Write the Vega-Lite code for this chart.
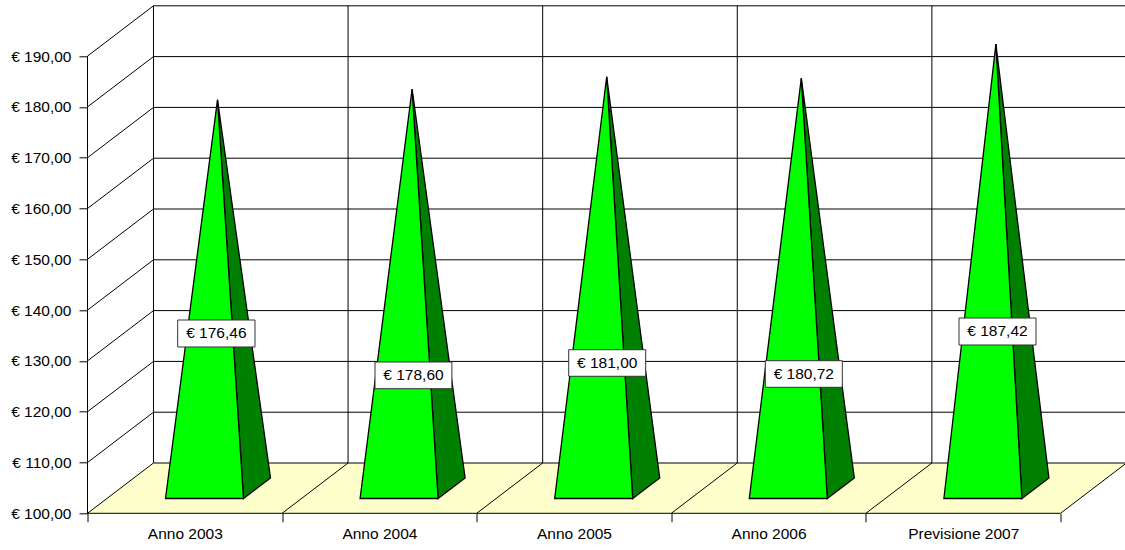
{"$schema":"https://vega.github.io/schema/vega-lite/v6.json","width":1037.5,"height":508,"autosize":{"type":"none"},"padding":{"left":87.5,"top":5.3,"right":0,"bottom":36.7},"background":"#ffffff","config":{"view":{"stroke":null},"font":"Liberation Sans"},"datasets":{"floor":[{"o":1,"x":0,"y":100},{"o":2,"x":5,"y":100},{"o":3,"x":5.339,"y":109.9},{"o":4,"x":0.339,"y":109.9},{"o":5,"x":0,"y":100}],"lines":[{"g":"l110","o":1,"x":0,"y":110},{"g":"l110","o":2,"x":0.339,"y":119.9},{"g":"l110","o":3,"x":5.339,"y":119.9},{"g":"l120","o":1,"x":0,"y":120},{"g":"l120","o":2,"x":0.339,"y":129.9},{"g":"l120","o":3,"x":5.339,"y":129.9},{"g":"l130","o":1,"x":0,"y":130},{"g":"l130","o":2,"x":0.339,"y":139.9},{"g":"l130","o":3,"x":5.339,"y":139.9},{"g":"l140","o":1,"x":0,"y":140},{"g":"l140","o":2,"x":0.339,"y":149.9},{"g":"l140","o":3,"x":5.339,"y":149.9},{"g":"l150","o":1,"x":0,"y":150},{"g":"l150","o":2,"x":0.339,"y":159.9},{"g":"l150","o":3,"x":5.339,"y":159.9},{"g":"l160","o":1,"x":0,"y":160},{"g":"l160","o":2,"x":0.339,"y":169.9},{"g":"l160","o":3,"x":5.339,"y":169.9},{"g":"l170","o":1,"x":0,"y":170},{"g":"l170","o":2,"x":0.339,"y":179.9},{"g":"l170","o":3,"x":5.339,"y":179.9},{"g":"l180","o":1,"x":0,"y":180},{"g":"l180","o":2,"x":0.339,"y":189.9},{"g":"l180","o":3,"x":5.339,"y":189.9},{"g":"l190","o":1,"x":0,"y":190},{"g":"l190","o":2,"x":0.339,"y":199.9},{"g":"l190","o":3,"x":5.339,"y":199.9},{"g":"v0","o":1,"x":0.339,"y":109.9},{"g":"v0","o":2,"x":0.339,"y":199.9},{"g":"v1","o":1,"x":1.339,"y":109.9},{"g":"v1","o":2,"x":1.339,"y":199.9},{"g":"v2","o":1,"x":2.339,"y":109.9},{"g":"v2","o":2,"x":2.339,"y":199.9},{"g":"v3","o":1,"x":3.339,"y":109.9},{"g":"v3","o":2,"x":3.339,"y":199.9},{"g":"v4","o":1,"x":4.339,"y":109.9},{"g":"v4","o":2,"x":4.339,"y":199.9},{"g":"b","o":1,"x":0.339,"y":109.9},{"g":"b","o":2,"x":5.339,"y":109.9},{"g":"d0","o":1,"x":0,"y":100},{"g":"d0","o":2,"x":0.339,"y":109.9},{"g":"d1","o":1,"x":1,"y":100},{"g":"d1","o":2,"x":1.339,"y":109.9},{"g":"d2","o":1,"x":2,"y":100},{"g":"d2","o":2,"x":2.339,"y":109.9},{"g":"d3","o":1,"x":3,"y":100},{"g":"d3","o":2,"x":3.339,"y":109.9},{"g":"d4","o":1,"x":4,"y":100},{"g":"d4","o":2,"x":4.339,"y":109.9},{"g":"d5","o":1,"x":5,"y":100},{"g":"d5","o":2,"x":5.339,"y":109.9},{"g":"ya","o":1,"x":0,"y":100},{"g":"ya","o":2,"x":0,"y":190},{"g":"xa","o":1,"x":0,"y":100},{"g":"xa","o":2,"x":5,"y":100}],"side":[{"g":"2003","o":1,"x":0.668,"y":181.39},{"g":"2003","o":2,"x":0.8016,"y":102.91},{"g":"2003","o":3,"x":0.9404,"y":106.95},{"g":"2003","o":4,"x":0.668,"y":181.39},{"g":"2004","o":1,"x":1.668,"y":183.53},{"g":"2004","o":2,"x":1.8016,"y":102.91},{"g":"2004","o":3,"x":1.9404,"y":106.95},{"g":"2004","o":4,"x":1.668,"y":183.53},{"g":"2005","o":1,"x":2.668,"y":185.93},{"g":"2005","o":2,"x":2.8016,"y":102.91},{"g":"2005","o":3,"x":2.9404,"y":106.95},{"g":"2005","o":4,"x":2.668,"y":185.93},{"g":"2006","o":1,"x":3.668,"y":185.65},{"g":"2006","o":2,"x":3.8016,"y":102.91},{"g":"2006","o":3,"x":3.9404,"y":106.95},{"g":"2006","o":4,"x":3.668,"y":185.65},{"g":"2007","o":1,"x":4.668,"y":192.35},{"g":"2007","o":2,"x":4.8016,"y":102.91},{"g":"2007","o":3,"x":4.9404,"y":106.95},{"g":"2007","o":4,"x":4.668,"y":192.35}],"front":[{"g":"2003","o":1,"x":0.668,"y":181.39},{"g":"2003","o":2,"x":0.4008,"y":102.91},{"g":"2003","o":3,"x":0.8016,"y":102.91},{"g":"2003","o":4,"x":0.668,"y":181.39},{"g":"2004","o":1,"x":1.668,"y":183.53},{"g":"2004","o":2,"x":1.4008,"y":102.91},{"g":"2004","o":3,"x":1.8016,"y":102.91},{"g":"2004","o":4,"x":1.668,"y":183.53},{"g":"2005","o":1,"x":2.668,"y":185.93},{"g":"2005","o":2,"x":2.4008,"y":102.91},{"g":"2005","o":3,"x":2.8016,"y":102.91},{"g":"2005","o":4,"x":2.668,"y":185.93},{"g":"2006","o":1,"x":3.668,"y":185.65},{"g":"2006","o":2,"x":3.4008,"y":102.91},{"g":"2006","o":3,"x":3.8016,"y":102.91},{"g":"2006","o":4,"x":3.668,"y":185.65},{"g":"2007","o":1,"x":4.668,"y":192.35},{"g":"2007","o":2,"x":4.4008,"y":102.91},{"g":"2007","o":3,"x":4.8016,"y":102.91},{"g":"2007","o":4,"x":4.668,"y":192.35}],"labels":[{"label":"€ 176,46","x":0.6621,"x1":0.4635,"x2":0.8607,"y":135.4,"y1":132.74,"y2":138.05},{"label":"€ 178,60","x":1.675,"x1":1.4774,"x2":1.8725,"y":127.16,"y1":124.53,"y2":129.78},{"label":"€ 181,00","x":2.6706,"x1":2.4728,"x2":2.8684,"y":129.58,"y1":126.97,"y2":132.2},{"label":"€ 180,72","x":3.681,"x1":3.483,"x2":3.8787,"y":127.42,"y1":124.8,"y2":130.04},{"label":"€ 187,42","x":4.676,"x1":4.4784,"x2":4.8741,"y":135.79,"y1":133.13,"y2":138.44}]},"resolve":{"axis":{"x":"independent"}},"layer":[{"data":{"name":"floor"},"mark":{"type":"line","fill":"#ffffcc","stroke":null,"strokeWidth":0},"encoding":{"x":{"field":"x","type":"quantitative","scale":{"domain":[0,5.3314],"nice":false,"zero":false},"axis":{"title":null,"values":[0,1,2,3,4,5],"labels":false,"grid":false,"domain":false,"ticks":true,"tickSize":8.5,"tickColor":"#000000","orient":"bottom"}},"y":{"field":"y","type":"quantitative","scale":{"domain":[100,200],"nice":false,"zero":false},"axis":{"title":null,"values":[100,110,120,130,140,150,160,170,180,190],"grid":false,"domain":false,"tickSize":8.5,"tickColor":"#000000","labelFontSize":15.5,"labelFont":"Liberation Sans","labelColor":"#000000","labelPadding":8,"labelExpr":"'€ ' + replace(format(datum.value,'.2f'),'.',',')"}},"order":{"field":"o","type":"quantitative"}}},{"data":{"name":"lines"},"mark":{"type":"line","stroke":"#000000","strokeWidth":1},"encoding":{"x":{"field":"x","type":"quantitative","axis":{"title":null,"values":[0.5,1.5,2.5,3.5,4.5],"grid":false,"domain":false,"ticks":false,"orient":"bottom","labelFontSize":15.5,"labelFont":"Liberation Sans","labelColor":"#000000","labelPadding":13,"labelExpr":"['Anno 2003','Anno 2004','Anno 2005','Anno 2006','Previsione 2007'][floor(datum.value)]"}},"y":{"field":"y","type":"quantitative"},"detail":{"field":"g"},"order":{"field":"o","type":"quantitative"}}},{"data":{"name":"side"},"mark":{"type":"line","fill":"#008000","stroke":"#000000","strokeWidth":1.3},"encoding":{"x":{"field":"x","type":"quantitative","axis":null},"y":{"field":"y","type":"quantitative"},"detail":{"field":"g"},"order":{"field":"o","type":"quantitative"}}},{"data":{"name":"front"},"mark":{"type":"line","fill":"#00ff00","stroke":"#000000","strokeWidth":1.3},"encoding":{"x":{"field":"x","type":"quantitative","axis":null},"y":{"field":"y","type":"quantitative"},"detail":{"field":"g"},"order":{"field":"o","type":"quantitative"}}},{"data":{"name":"labels"},"mark":{"type":"rect","fill":"#ffffff","stroke":"#333333","strokeWidth":1},"encoding":{"x":{"field":"x1","type":"quantitative","axis":null},"x2":{"field":"x2"},"y":{"field":"y1","type":"quantitative"},"y2":{"field":"y2"}}},{"data":{"name":"labels"},"mark":{"type":"text","fontSize":15.5,"font":"Liberation Sans","color":"#000000","align":"center","baseline":"middle"},"encoding":{"x":{"field":"x","type":"quantitative","axis":null},"y":{"field":"y","type":"quantitative"},"text":{"field":"label"}}}]}
